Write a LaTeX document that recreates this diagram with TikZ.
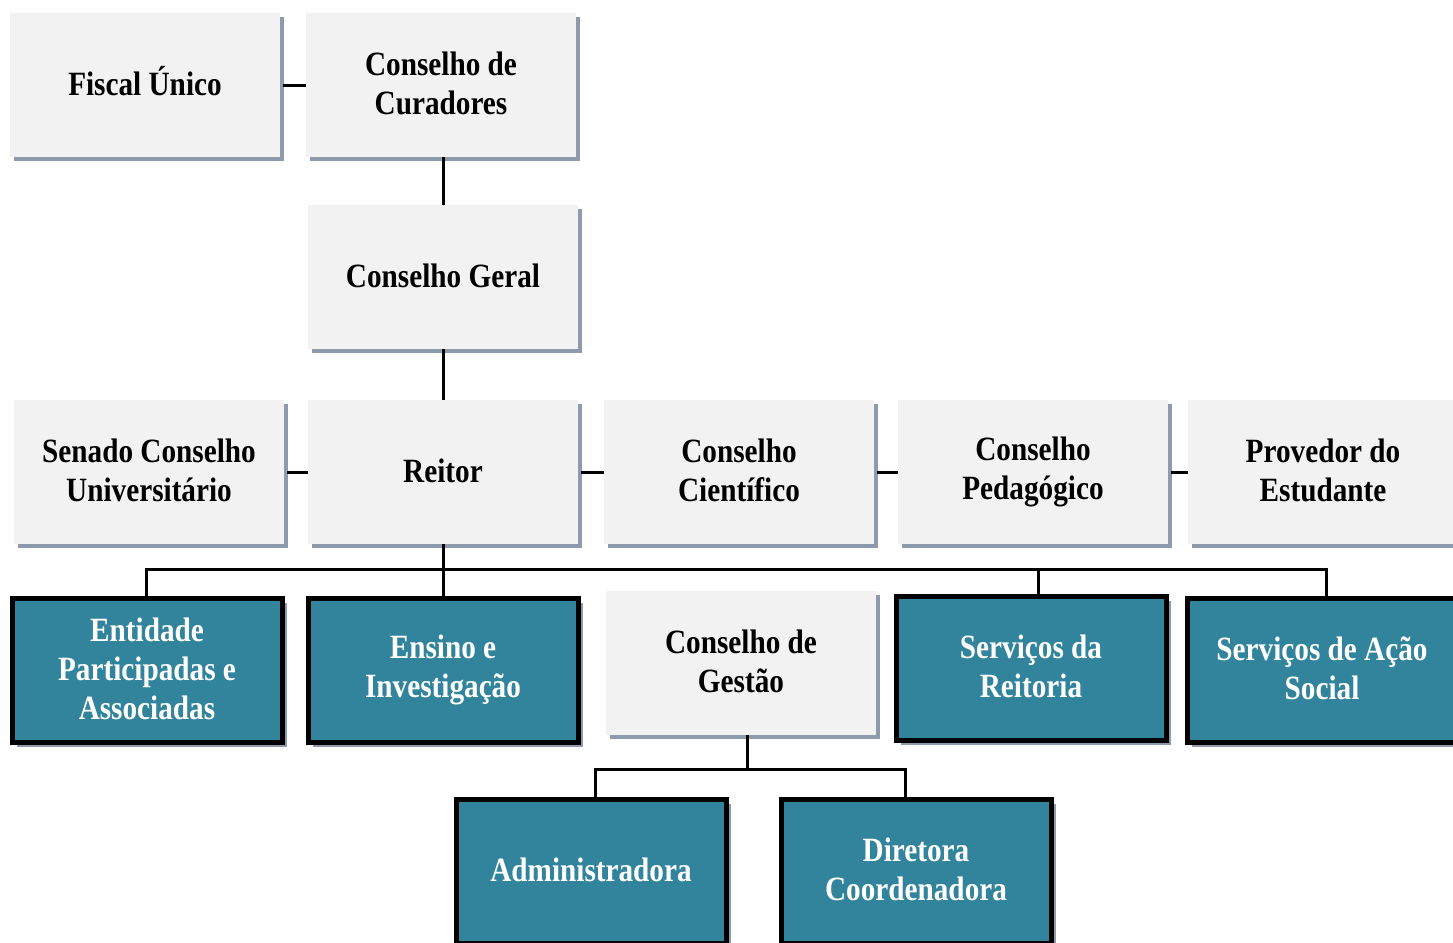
\documentclass[tikz,border=0pt]{standalone}
\usepackage{fontspec}
\setmainfont{Liberation Serif}[FakeStretch=0.86]
\usetikzlibrary{shadows}
\definecolor{boxgray}{HTML}{F2F2F2}
\definecolor{shadowcol}{HTML}{8E9BAC}
\definecolor{teal}{HTML}{31849B}
\tikzset{
  every node/.style={font=\fontsize{34}{39}\selectfont\bfseries, align=center, inner sep=0pt},
  sl/.style={execute at begin node={\rule{0pt}{33.3pt}}, execute at end node={\strut}},
  ml/.style={execute at end node={\rule[-3pt]{0pt}{1pt}}},
  graybox/.style={fill=boxgray, minimum width=270pt, minimum height=144pt,
    drop shadow={shadow xshift=4pt, shadow yshift=-4pt, fill=shadowcol, opacity=1}},
  tealbox/.style={fill=teal, draw=black, line width=5pt, text=white, minimum width=270pt, minimum height=144pt,
    drop shadow={shadow xshift=5pt, shadow yshift=-5pt, fill=shadowcol, opacity=1}},
  link/.style={draw=black, line width=3pt}
}
\begin{document}
\begin{tikzpicture}[x=1pt, y=-1pt]
\useasboundingbox (0,0) rectangle (1453,942);
\begin{scope}
\clip (0,0) rectangle (1453,942);
\coordinate (bus) at (443,569);
\coordinate (gbus) at (747,769);
% gray boxes
\node[graybox, sl] (fiscal) at (145,85) {Fiscal Único};
\node[graybox, ml] (curadores) at (441,85) {Conselho de\\Curadores};
\node[graybox, sl] (geral) at (443,277) {Conselho Geral};
\node[graybox, ml] (senado) at (149,472) {Senado Conselho\\Universitário};
\node[graybox, sl] (reitor) at (443,472) {Reitor};
\node[graybox, ml] (cientifico) at (739,472) {Conselho\\Científico};
\node[graybox, ml] (pedagogico) at (1033,472) {Conselho\\Pedagógico};
\node[graybox, ml] (provedor) at (1323,472) {Provedor do\\Estudante};
\node[graybox, ml] (gestao) at (741,663) {Conselho de\\Gestão};
% teal boxes
\node[tealbox, ml] (entidade) at (147,670) {Entidade\\Participadas e\\Associadas};
\node[tealbox, ml] (ensino) at (443,670) {Ensino e\\Investigação};
\node[tealbox, ml] (reitoria) at (1031,668) {Serviços da\\Reitoria};
\node[tealbox, ml] (acao) at (1322,670) {Serviços de Ação\\Social};
\node[tealbox, sl] (admin) at (591,871) {Administradora};
\node[tealbox, ml] (diretora) at (916,871) {Diretora\\Coordenadora};
% connectors
\draw[link] ([xshift=3pt]fiscal.east) -- (fiscal.east -| curadores.west);
\draw[link] (geral.north) -- (geral.north |- curadores.south);
\draw[link] (reitor.north) -- (reitor.north |- geral.south);
\draw[link] ([xshift=3pt]senado.east) -- (reitor.west);
\draw[link] ([xshift=3pt]reitor.east) -- (cientifico.west);
\draw[link] ([xshift=3pt]cientifico.east) -- (pedagogico.west);
\draw[link] ([xshift=3pt]pedagogico.east) -- (provedor.west);
\draw[link] (reitor.south) -- (bus);
\draw[link] ([xshift=-1pt]entidade.north) |- (bus) -| ([xshift=4pt]acao.north);
\draw[link] (bus) -- (ensino.north);
\draw[link] ([xshift=7pt]reitoria.north |- bus) -- ([xshift=7pt]reitoria.north);
\draw[link] ([xshift=6pt]gestao.south) -- (gbus);
\draw[link] ([xshift=4pt]admin.north) |- (gbus) -| ([xshift=-11pt]diretora.north);
\end{scope}
\end{tikzpicture}
\end{document}
